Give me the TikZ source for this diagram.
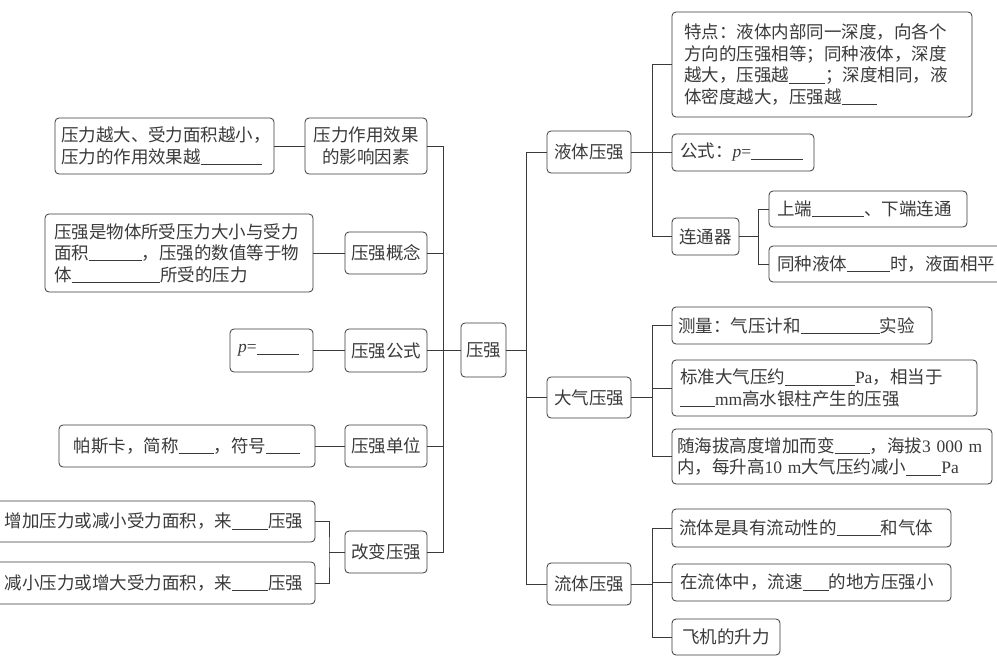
\documentclass[tikz,border=0pt]{standalone}
\usepackage{fontspec}
\newfontfamily\cjk{Noto Sans CJK SC}
\newfontfamily\latin{Liberation Serif}
\usetikzlibrary{positioning}
\definecolor{ink}{HTML}{3A3A3A}
\newcommand{\blank}[1]{\rule[-1.5pt]{#1pt}{0.7pt}}
\newcommand{\peq}{{\latin\itshape p}{\latin =}}

\begin{document}
\begin{tikzpicture}[x=1pt,y=-1pt,
box/.style={draw=ink, line width=0.8pt, rounded corners=4pt, text=ink,
  font={\cjk\fontsize{17.5pt}{21.5pt}\selectfont}, inner sep=3pt, align=left},
head/.style={box, align=center},
wh/.style 2 args={minimum width=#1pt, minimum height=#2pt},
tw/.style 2 args={inner xsep=8pt, text width=#1pt, minimum height=#2pt},
link/.style={draw=ink, line width=0.8pt}]
\fill[white] (0,0) rectangle (997,664);
\useasboundingbox (0,0) rectangle (997,664);
\clip (0,0) rectangle (997,664);

% left half
\node[box, tw={207}{56}, inner xsep=6pt] (inflText) at (164.5,146) {压力越大、受力面积越小，\\压力的作用效果越\blank{61}};
\node[head, wh={122}{56}] (infl) at (366,146) {压力作用效果\\的影响因素};
\node[box, tw={250}{78}, inner xsep=9pt] (conceptText) at (179,253) {压强是物体所受压力大小与受力\\面积\blank{53}，压强的数值等于物\\体\blank{89}所受的压力};
\node[head, wh={82}{42}] (concept) at (386,253) {压强概念};
\node[box, tw={67}{43}] (formulaText) at (271.5,350.5) {\peq\blank{42}};
\node[head, wh={82}{43}] (formula) at (386,350.5) {压强公式};
\node[head, wh={45}{54}] (root) at (483.5,350) {压强};
\node[box, wh={256}{42}] (unitText) at (187,446) {帕斯卡，简称\blank{35}，符号\blank{34}};
\node[head, wh={82}{42}] (unit) at (386,446) {压强单位};
\node[box, tw={300}{41}, inner xsep=10pt] (incText) at (155,521.5) {增加压力或减小受力面积，来\blank{36}压强};
\node[box, tw={300}{42}, inner xsep=10pt] (decText) at (155,583) {减小压力或增大受力面积，来\blank{36}压强};
\node[head, wh={82}{42}] (change) at (386,552) {改变压强};

% right half
\node[head, wh={84}{42}] (liquid) at (589,152) {液体压强};
\node[box, tw={276}{105}, inner xsep=12pt] (feat) at (822,64.5) {特点：液体内部同一深度，向各个\\方向的压强相等；同种液体，深度\\越大，压强越\blank{36}；深度相同，液\\体密度越大，压强越\blank{35}};
\node[box, tw={126}{37}] (lform) at (743,152.5) {公式：\peq\blank{52}};
\node[head, wh={67}{37}] (vessel) at (705.5,236.5) {连通器};
\node[box, tw={182}{36}] (vtop) at (868,209) {上端\blank{52}、下端连通};
\node[box, tw={221}{36}] (vlevel) at (887.5,264) {同种液体\blank{43}时，液面相平};
\node[head, wh={84}{41}] (atmos) at (589,397.5) {大气压强};
\node[box, tw={248}{37}, inner xsep=6pt] (measure) at (802,325.5) {测量：气压计和\blank{79}实验};
\node[box, tw={289}{56}] (std) at (824.5,388) {标准大气压约\blank{70}{\latin Pa}，相当于\\\blank{35}{\latin mm}高水银柱产生的压强};
\node[box, tw={310}{55}, inner xsep=5pt] (alt) at (832,456.5) {随海拔高度增加而变\blank{35}，海拔{\latin 3 000 m}\\内，每升高{\latin 10 m}大气压约减小\blank{35}{\latin Pa}};
\node[head, wh={84}{42}] (fluid) at (589,584) {流体压强};
\node[box, tw={265}{38}, inner xsep=7pt] (fdef) at (811.5,528) {流体是具有流动性的\blank{44}和气体};
\node[box, tw={263}{37}] (fspeed) at (811.5,582.5) {在流体中，流速\blank{26}的地方压强小};
\node[box, tw={88}{36}, inner xsep=10pt] (lift) at (726,637) {飞机的升力};

% buses
\coordinate (lbus) at (443,350);
\coordinate (cbus) at (329,552);
\coordinate (rbus) at (526,350);
\coordinate (sbus) at (652,350);
\coordinate (vbus) at (758,237);

\draw[link] (infl.east) -| (lbus |- change.east) -- (change.east);
\foreach \n in {concept,formula,unit}
  \draw[link] (\n.east) -- (\n.east -| lbus);
\draw[link] (root.west) -- (root.west -| lbus);
\foreach \a/\b in {inflText/infl,conceptText/concept,formulaText/formula,unitText/unit}
  \draw[link] (\a.east) -- (\b.west);
\draw[link] (change.west) -- (cbus);
\draw[link] (incText.east) -| (cbus) |- (decText.east);

\draw[link] (root.east) -- (rbus);
\draw[link] (liquid.west) -| (rbus |- fluid.west) -- (fluid.west);
\draw[link] (atmos.west) -- (atmos.west -| rbus);
\foreach \p/\f/\m/\l in {liquid/feat/lform/vessel,atmos/measure/std/alt,fluid/fdef/fspeed/lift}{
  \draw[link] (\p.east) -- (\p.east -| sbus);
  \draw[link] (\f.west) -| (sbus |- \l.west) -- (\l.west);
  \draw[link] (\m.west) -- (\m.west -| sbus);
}
\draw[link] (vessel.east) -- (vessel.east -| vbus);
\draw[link] (vtop.west) -| (vbus |- vlevel.west) -- (vlevel.west);
\end{tikzpicture}
\end{document}
